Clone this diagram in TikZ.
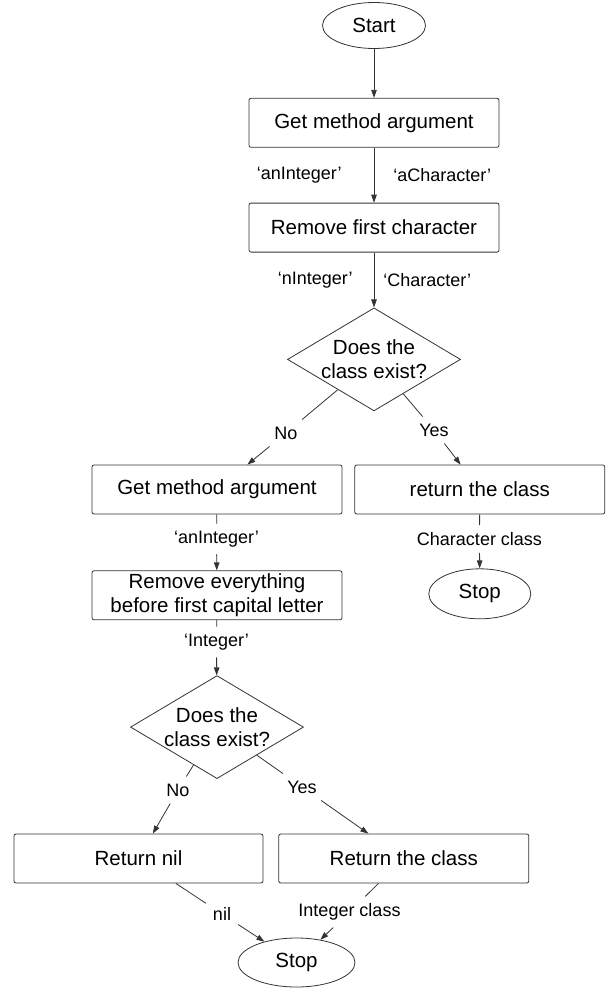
\documentclass[tikz,border=0pt]{standalone}
\usepackage{fontspec}
\setmainfont{Liberation Sans}
\usepackage{tikz}
\usetikzlibrary{positioning,arrows.meta,shapes.geometric}

\begin{document}
\begin{tikzpicture}[
        x=1pt, y=-1pt,
        block/.style={draw=black!80, line width=0.8pt, rounded corners=2pt, minimum width=250pt, minimum height=49pt, inner sep=2pt, align=center, font=\fontsize{20.5}{24.5}\selectfont},
        terminal/.style={draw=black!80, line width=0.8pt, ellipse, inner sep=0pt, minimum width=103pt, minimum height=46pt, font=\fontsize{20.5}{24.5}\selectfont},
        decision/.style={draw=black!80, line width=0.8pt, diamond, shape aspect=1.69, inner xsep=-8pt, inner ysep=-5pt, minimum width=173pt, minimum height=103pt, align=center, font=\fontsize{20.5}{24.5}\selectfont},
        tag/.style={inner sep=7pt, font=\fontsize{18}{21}\selectfont},
        arrow/.style={-{Triangle[length=8pt,width=5.5pt]}, line width=0.8pt, draw=black!80},
        line/.style={line width=0.8pt, draw=black!80},
        node distance=55pt
    ]
    \useasboundingbox (0,0) rectangle (612,990);

    % 开始
    \node[terminal] (start) at (374,25.5) {Start};
    \node[block, below=49pt of start] (get1) {Get method argument};
    \node[block, below=of get1] (remove1) {Remove first character};
    \node[decision, below=of remove1] (dec1) {Does the\\class exist?};

    % 第一次判断的两个分支
    \node[block] (get2) at (217,489.5) {Get method argument};
    \node[block, right=12pt of get2] (ret1) {return the class};
    \node[block, below=56pt of get2] (remove2) {Remove everything\\before first capital letter};
    \node[terminal, below=54pt of ret1, minimum width=102pt, minimum height=50pt] (stop1) {Stop};
    \node[decision, below=of remove2] (dec2) {Does the\\class exist?};

    % 第二次判断的两个分支
    \node[block, minimum width=249pt] (retnil) at (138.5,858.5) {Return nil};
    \node[block, right=15pt of retnil] (retcls) {Return the class};
    \node[terminal, minimum width=117pt, minimum height=49pt] (stop2) at (296.5,962.5) {Stop};

    % 边上的标签
    \node[tag] (no1) at (286,433) {No};
    \node[tag] (yes1) at (434,430) {Yes};
    \node[tag] (anint) at (216.5,539) {‘anInteger’};
    \node[tag] (charcls) at (479.5,539) {Character class};
    \node[tag] (integer) at (216.5,642) {‘Integer’};
    \node[tag] (no2) at (178,790) {No};
    \node[tag] (yes2) at (302,787) {Yes};
    \node[tag] (nil) at (222,914) {nil};
    \node[tag] (intcls) at (349.5,912) {Integer class};

    % 连接箭头
    \draw[arrow] (start) -- (get1);
    \draw[arrow] (get1) -- (remove1)
        node[tag, midway, left=25pt] (lanint) {‘anInteger’}
        node[tag, midway, right=12pt] (lachar) {‘aCharacter’};
    \draw[arrow] (remove1) -- (dec1)
        node[tag, midway, left=14pt] (lnint) {‘nInteger’}
        node[tag, midway, right=2pt] (lchar) {‘Character’};
    \draw[line] (dec1) -- (no1);
    \draw[arrow] (no1) -- (get2);
    \draw[line] (dec1) -- (yes1);
    \draw[arrow] (yes1) -- (ret1);
    \draw[line] (get2) -- (anint);
    \draw[arrow] (anint) -- (remove2);
    \draw[line] (ret1) -- (charcls);
    \draw[arrow] (charcls) -- (stop1);
    \draw[line] (remove2) -- (integer);
    \draw[arrow] (integer) -- (dec2);
    \draw[line] (dec2) -- (no2);
    \draw[arrow] (no2) -- (retnil);
    \draw[line] (dec2) -- (yes2);
    \draw[arrow] (yes2) -- (retcls);
    \draw[line] (retnil) -- (nil);
    \draw[arrow] (nil) -- (stop2);
    \draw[line] (retcls) -- (intcls);
    \draw[arrow] (intcls) -- (stop2);

\end{tikzpicture}
\end{document}
